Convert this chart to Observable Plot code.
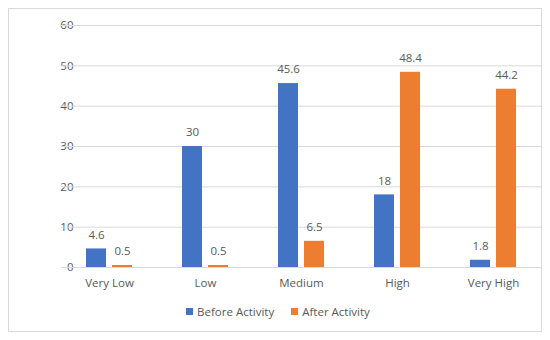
<!DOCTYPE html>
<html>
<head>
<meta charset="utf-8">
<script src="https://cdn.jsdelivr.net/npm/d3@7"></script>
<script src="https://cdn.jsdelivr.net/npm/@observablehq/plot@0.6"></script>
<style>
  html, body { margin: 0; padding: 0; background: #fff; }
  body { width: 550px; height: 340px; position: relative; overflow: hidden; font-family: "Open Sans", sans-serif; }
  #frame { position: absolute; left: 8px; top: 8px; width: 534px; height: 324px; border: 1px solid #d9d9d9; box-sizing: border-box; }
  #chart { position: absolute; left: 0; top: 0; }
  #legend { position: absolute; left: 0; width: 550px; top: 304px; display: flex; justify-content: center; gap: 17px; font-size: 11.5px; color: #595959; padding-left: 6px; box-sizing: border-box; }
  #legend span.item { display: flex; align-items: center; }
  #legend span.sw { display: inline-block; width: 7px; height: 7px; margin-right: 4px; }
</style>
</head>
<body>
<div id="frame"></div>
<div id="chart"></div>
<div id="legend"></div>
<script>
const categories = ["Very Low", "Low", "Medium", "High", "Very High"];
const seriesNames = ["Before Activity", "After Activity"];
const beforeValues = [4.6, 30, 45.6, 18, 1.8];
const afterValues = [0.5, 0.5, 6.5, 48.4, 44.2];
const yTicks = [0, 10, 20, 30, 40, 50, 60];
const colors = ["#4472C4", "#ED7D31"];

const rows = [];
categories.forEach((c, i) => {
  rows.push({category: c, series: seriesNames[0], value: beforeValues[i]});
  rows.push({category: c, series: seriesNames[1], value: afterValues[i]});
});

const textColor = "#595959";
const chart = Plot.plot({
  width: 550,
  height: 300,
  marginLeft: 61,
  marginRight: 9,
  marginTop: 25,
  marginBottom: 33,
  style: { fontFamily: "Open Sans, sans-serif", fontSize: "11.5px", color: textColor, background: "transparent" },
  fx: { domain: categories, paddingInner: 0.5, paddingOuter: 0.25, label: null, tickSize: 0, tickPadding: 11 },
  x: { domain: seriesNames, paddingInner: 0.22, paddingOuter: 0, axis: null },
  y: { domain: [0, 60], ticks: yTicks, tickSize: 0, tickPadding: 12, label: null },
  color: { domain: seriesNames, range: colors },
  marks: [
    Plot.ruleY(yTicks, { stroke: "#d9d9d9", strokeWidth: 1, insetLeft: -24, insetRight: -24 }),
    Plot.barY(rows, { fx: "category", x: "series", y: "value", fill: "series" }),
    Plot.text(rows, { fx: "category", x: "series", y: "value", text: d => String(d.value), dy: -14, fill: textColor, fontSize: 11.5 })
  ]
});
document.getElementById("chart").appendChild(chart);

const legend = document.getElementById("legend");
seriesNames.forEach((s, i) => {
  const item = document.createElement("span");
  item.className = "item";
  const sw = document.createElement("span");
  sw.className = "sw";
  sw.style.background = colors[i];
  item.appendChild(sw);
  item.appendChild(document.createTextNode(s));
  legend.appendChild(item);
});
</script>
</body>
</html>
